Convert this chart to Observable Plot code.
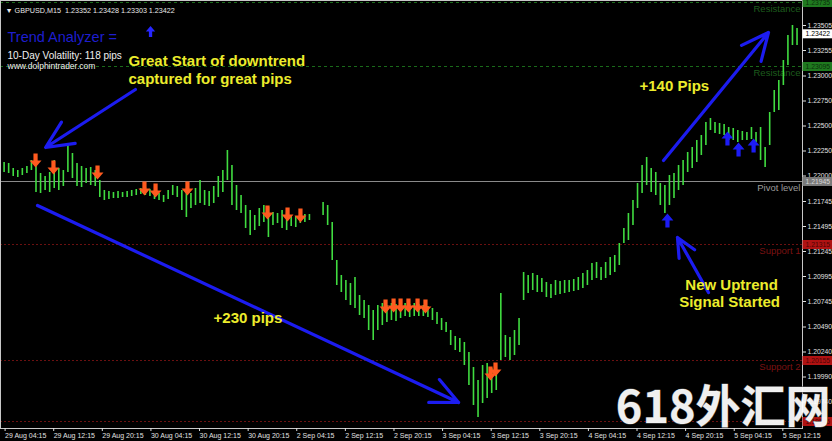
<!DOCTYPE html>
<html><head><meta charset="utf-8">
<script src="https://cdn.jsdelivr.net/npm/d3@7"></script>
<script src="https://cdn.jsdelivr.net/npm/@observablehq/plot@0.6"></script>
<style>
html,body{margin:0;padding:0;background:#000;}
#chart{width:832px;height:441px;overflow:hidden;position:relative}
</style></head><body><div id="chart"></div>
<script>
// ---- price samples (one sample every 3 M15 bars), GBPUSD M15 ----
const BAR_STEP = 3;
const highs = [
1.22135,1.22125,1.22075,1.22055,1.22075,1.22095,1.22155,1.22195,1.22025,1.21995,
1.22035,1.22155,1.22075,1.22055,1.22305,1.22225,1.22125,1.22095,1.22075,1.22085,
1.22055,1.21955,1.21855,1.21845,1.21835,1.21845,1.21835,1.21845,1.21855,1.21865,
1.21875,1.21885,1.21865,1.21835,1.21825,1.21805,1.21855,1.21905,1.21895,1.21855,
1.21835,1.21825,1.21875,1.21955,1.21855,1.21845,1.21895,1.21995,1.22055,1.22255,
1.22105,1.21905,1.21805,1.21705,1.21655,1.21605,1.21675,1.21705,1.21685,1.21635,
1.21625,1.21655,1.21625,1.21605,1.21595,1.21605,1.21615,1.21615,null,null,
1.21735,1.21705,1.21535,1.21155,1.21005,1.20955,1.20925,1.20985,1.20805,1.20755,
1.20705,1.20655,1.20705,1.20725,1.20705,1.20725,1.20715,1.20715,1.20725,1.20715,
1.20725,1.20715,1.20705,1.20695,1.20675,1.20635,1.20575,1.20535,1.20455,1.20395,
1.20375,1.20335,1.20235,1.20085,1.19955,1.20105,1.20125,1.20075,1.20105,1.20825,
1.20405,1.20385,1.20455,1.20575,1.21035,1.21005,1.21025,1.21005,1.20975,1.20935,
1.20915,1.20955,1.20945,1.20955,1.20955,1.20965,1.20985,1.21025,1.21055,1.21125,
1.21135,1.21085,1.21135,1.21185,1.21205,1.21325,1.21475,1.21625,1.21755,1.21925,
1.22105,1.22185,1.22075,1.22035,1.21925,1.21905,1.22005,1.22025,1.22105,1.22155,
1.22235,1.22285,1.22355,1.22405,1.22535,1.22575,1.22535,1.22525,1.22515,1.22485,
1.22475,1.22455,1.22445,1.22435,1.22485,1.22435,1.22485,1.22285,1.22635,1.22855,
1.22955,1.23155,1.23405,1.23505,1.23475
];
const lows = [
1.22035,1.22025,1.21995,1.21985,1.22005,1.22025,1.22055,1.21835,1.21825,1.21855,
1.21835,1.21875,1.21855,1.21895,1.22035,1.21975,1.21895,1.21885,1.21925,1.21905,
1.21895,1.21785,1.21755,1.21765,1.21775,1.21775,1.21785,1.21785,1.21795,1.21805,
1.21815,1.21805,1.21795,1.21765,1.21755,1.21735,1.21765,1.21805,1.21785,1.21655,
1.21585,1.21675,1.21705,1.21725,1.21705,1.21695,1.21725,1.21785,1.21835,1.21955,
1.21705,1.21655,1.21625,1.21475,1.21405,1.21455,1.21495,1.21535,1.21385,1.21505,
1.21525,1.21475,1.21455,1.21495,1.21485,1.21525,1.21535,1.21555,null,null,
1.21605,1.21505,1.21155,1.20905,1.20835,1.20755,1.20705,1.20675,1.20605,1.20575,
1.20455,1.20355,1.20455,1.20505,1.20535,1.20555,1.20545,1.20575,1.20595,1.20585,
1.20595,1.20595,1.20595,1.20585,1.20555,1.20515,1.20455,1.20435,1.20305,1.20255,
1.20235,1.20105,1.19905,1.19705,1.19585,1.19725,1.19775,1.19825,1.19855,1.20155,
1.20185,1.20155,1.20205,1.20305,1.20755,1.20825,1.20855,1.20835,1.20835,1.20785,
1.20775,1.20805,1.20815,1.20825,1.20835,1.20845,1.20855,1.20875,1.20905,1.20955,
1.20975,1.20955,1.20975,1.21005,1.21035,1.21105,1.21325,1.21355,1.21505,1.21675,
1.21825,1.21905,1.21835,1.21805,1.21705,1.21625,1.21705,1.21775,1.21855,1.21905,
1.22035,1.22075,1.22135,1.22205,1.22305,1.22455,1.22425,1.22415,1.22405,1.22355,
1.22355,1.22335,1.22355,1.22355,1.22365,1.22335,1.22155,1.22085,1.22305,1.22635,
1.22655,1.22905,1.23105,1.23305,1.23305
];

// ---- axis ticks ----
const xTickBars = [0,32,64,96,128,160,192,224,256,288,320,352,384,416,448,480,512];
const xTickLabels = ["29 Aug 04:15","29 Aug 12:15","29 Aug 20:15","30 Aug 04:15","30 Aug 12:15","30 Aug 20:15",
  "2 Sep 04:15","2 Sep 12:15","2 Sep 20:15","3 Sep 04:15","3 Sep 12:15","3 Sep 20:15",
  "4 Sep 04:15","4 Sep 12:15","4 Sep 20:15","5 Sep 04:15","5 Sep 12:15"];
const yTicks = [1.23505,1.23255,1.23000,1.22750,1.22500,1.22250,1.22000,1.21745,1.21495,1.21245,1.20995,1.20745,1.20490,1.20240,1.19990,1.19740];

// ---- pivot levels ----
const levelNames  = ["Resistance","Resistance","Pivot level","Support 1","Support 2",""];
const levelPrices = [1.23735,1.23095,1.21945,1.21315,1.20155,1.19545];
const levelKinds  = ["res","res","pivot","sup","sup","sup"];
const currentPrice = 1.23422;

// ---- signal arrows (bar index, price) ----
const sellBars   = [20.7,32.5,61.5,92.4,99.7,120.7,173.4,186.6,195.1,251.1,256.4,261.0,266.2,272.2,277.4,320.2,323.5];
const sellPrices = [1.22155,1.22085,1.22035,1.21875,1.21855,1.21875,1.21635,1.21615,1.21605,1.20695,1.20705,1.20705,1.20705,1.20705,1.20695,1.20025,1.20065];
const buyBars    = [436.7,476.2,483.5,493.4];
const buyPrices  = [1.21555,1.22375,1.22265,1.22305];

// ---- annotation arrows & texts ----
const arrowFromBar = [86.5,22.0,434.1,463.7];
const arrowFromPx  = [1.22865,1.21705,1.22155,1.20835];
const arrowToBar   = [27.3,299.2,503.2,443.3];
const arrowToPx    = [1.22285,1.19735,1.23435,1.21385];
const noteTexts  = ["Great Start of downtrend","captured for great pips","+140 Pips","+230 pips","New Uptrend","Signal Started"];
const noteBars   = [81.9,81.9,418.3,137.9,478.9,477.6];
const notePrices = [1.23145,1.22965,1.22895,1.20575,1.20905,1.20735];
const noteAnchor = ["start","start","start","start","middle","middle"];

const headerLines = ["\u25BC GBPUSD,M15  1.23352 1.23428 1.23303 1.23422"];

// ---- build tables ----
const bars = highs.map((h, k) => ({i: k * BAR_STEP, high: h, low: lows[k]})).filter(d => d.high != null);
const levels = levelPrices.map((p, j) => ({price: p, name: levelNames[j], kind: levelKinds[j]}));
const sells = sellBars.map((b, j) => ({i: b, p: sellPrices[j]}));
const buys = buyBars.map((b, j) => ({i: b, p: buyPrices[j]}));
const arrows = arrowFromBar.map((b, j) => ({x1: b, y1: arrowFromPx[j], x2: arrowToBar[j], y2: arrowToPx[j]}));
const notes = noteTexts.map((t, j) => ({t, i: noteBars[j], p: notePrices[j], a: noteAnchor[j]}));

const X_MAX = 525.6;
const downArrow = {draw(c, size) { const r = Math.sqrt(size / Math.PI);
  c.moveTo(-0.3*r,-r); c.lineTo(0.3*r,-r); c.lineTo(0.3*r,0); c.lineTo(0.85*r,0);
  c.lineTo(0,r); c.lineTo(-0.85*r,0); c.lineTo(-0.3*r,0); c.closePath(); }};
const upArrow = {draw(c, size) { const r = Math.sqrt(size / Math.PI);
  c.moveTo(-0.3*r,r); c.lineTo(0.3*r,r); c.lineTo(0.3*r,0); c.lineTo(0.85*r,0);
  c.lineTo(0,-r); c.lineTo(-0.85*r,0); c.lineTo(-0.3*r,0); c.closePath(); }};
const boxSym = {draw(c) { c.rect(0, -4.5, 30, 9); }};

const boxFill = {res: "#1f7a1f", pivot: "#7a7a7a", sup: "#b01212"};
const boxText = {res: "#0b300b", pivot: "#d8d8d8", sup: "#4a0505"};
const lblFill = {res: "#1d5c1d", pivot: "#9a9a9a", sup: "#7a1212"};

const font = "'Liberation Sans', Arial, sans-serif";
const noteStyle = {x: "i", y: "p", text: "t", fill: "#ecec2c", fontSize: 15, fontWeight: "bold"};
const chart = Plot.plot({
  width: 832, height: 441,
  marginLeft: 0, marginRight: 30, marginTop: 0, marginBottom: 13,
  style: {background: "#000", color: "#ddd", fontFamily: font, fontSize: "7px", overflow: "visible"},
  x: {domain: [-2.37, X_MAX], axis: null},
  y: {domain: [1.19475, 1.23755], axis: null},
  marks: [
    Plot.ruleY(levels.filter(d => d.kind === "res"), {y: "price", stroke: "#1a6a1a", strokeDasharray: "3,3"}),
    Plot.ruleY(levels.filter(d => d.kind === "pivot"), {y: "price", stroke: "#8a8a8a"}),
    Plot.ruleY(levels.filter(d => d.kind === "sup"), {y: "price", stroke: "#6a1010", strokeDasharray: "2,2"}),
    Plot.text(levels.filter(d => d.name), {x: X_MAX, y: "price", text: "name", textAnchor: "end", dx: -2, dy: 6,
      fill: d => lblFill[d.kind], fontSize: 9.5}),
    Plot.ruleX(bars, {x: "i", y1: "low", y2: "high", stroke: "#40dc40", strokeWidth: 1.6}),
    Plot.dot(sells, {x: "i", y: "p", symbol: downArrow, r: 7, fill: "#ff5a1f", stroke: null}),
    Plot.dot(buys, {x: "i", y: "p", symbol: upArrow, r: 7, fill: "#1c1cf5", stroke: null}),
    Plot.arrow(arrows, {x1: "x1", y1: "y1", x2: "x2", y2: "y2", stroke: "#1c1cf0", strokeWidth: 3.2, headLength: 14, headAngle: 50}),
    Plot.text(notes.filter(d => d.a === "start"), {...noteStyle, textAnchor: "start"}),
    Plot.text(notes.filter(d => d.a === "middle"), {...noteStyle, textAnchor: "middle"}),
    Plot.frame({stroke: "#c8c8c8"}),
    Plot.axisY(yTicks, {anchor: "right", tickSize: 3, tickPadding: 2, tickFormat: d => d.toFixed(5), fontSize: 6.8, color: "#e0e0e0"}),
    Plot.axisX(xTickBars, {anchor: "bottom", tickSize: 3, tickPadding: 2, tickFormat: d => xTickLabels[xTickBars.indexOf(d)],
      textAnchor: "start", dx: 1, fontSize: 7, color: "#e0e0e0"}),
    Plot.dot(levels, {x: X_MAX, y: "price", symbol: boxSym, r: 5, fill: d => boxFill[d.kind], stroke: null}),
    Plot.text(levels, {x: X_MAX, y: "price", text: d => d.price.toFixed(5), textAnchor: "start", dx: 3, fill: d => boxText[d.kind], fontSize: 6.8}),
    Plot.dot([currentPrice], {x: X_MAX, y: d => d, symbol: boxSym, r: 5, fill: "#ffffff", stroke: null}),
    Plot.text([currentPrice], {x: X_MAX, y: d => d, text: d => d.toFixed(5), textAnchor: "start", dx: 3, fill: "#000", fontSize: 6.8}),
    Plot.text(headerLines, {frameAnchor: "top-left", dx: 5, dy: 7, text: d => d, textAnchor: "start", fill: "#e8e8e8", fontSize: 7.2}),
    Plot.text(["Trend Analyzer ="], {frameAnchor: "top-left", dx: 7, dy: 31, text: d => d, textAnchor: "start", fill: "#1e1ecf", fontSize: 14.5}),
    Plot.dot([0], {x: 96.4, y: 1.23445, symbol: upArrow, r: 5.5, fill: "#2626ff", stroke: null}),
    Plot.text(["10-Day Volatility: 118 pips"], {frameAnchor: "top-left", dx: 7, dy: 51, text: d => d, textAnchor: "start", fill: "#f0f0f0", fontSize: 10}),
    Plot.text(["www.dolphintrader.com"], {frameAnchor: "top-left", dx: 7, dy: 62, text: d => d, textAnchor: "start", fill: "#f0f0f0", fontSize: 8.5}),
    Plot.text(["618外汇网"], {frameAnchor: "bottom-right", dx: 28, dy: -6, text: d => d, textAnchor: "end", lineAnchor: "bottom",
      fontSize: 45, fontWeight: "bold", fontFamily: "'Noto Sans CJK SC', sans-serif", fill: "#ffffff", fillOpacity: 0.95, stroke: "#555", strokeWidth: 1})
  ]
});
document.getElementById("chart").appendChild(chart);
</script>
</body></html>
